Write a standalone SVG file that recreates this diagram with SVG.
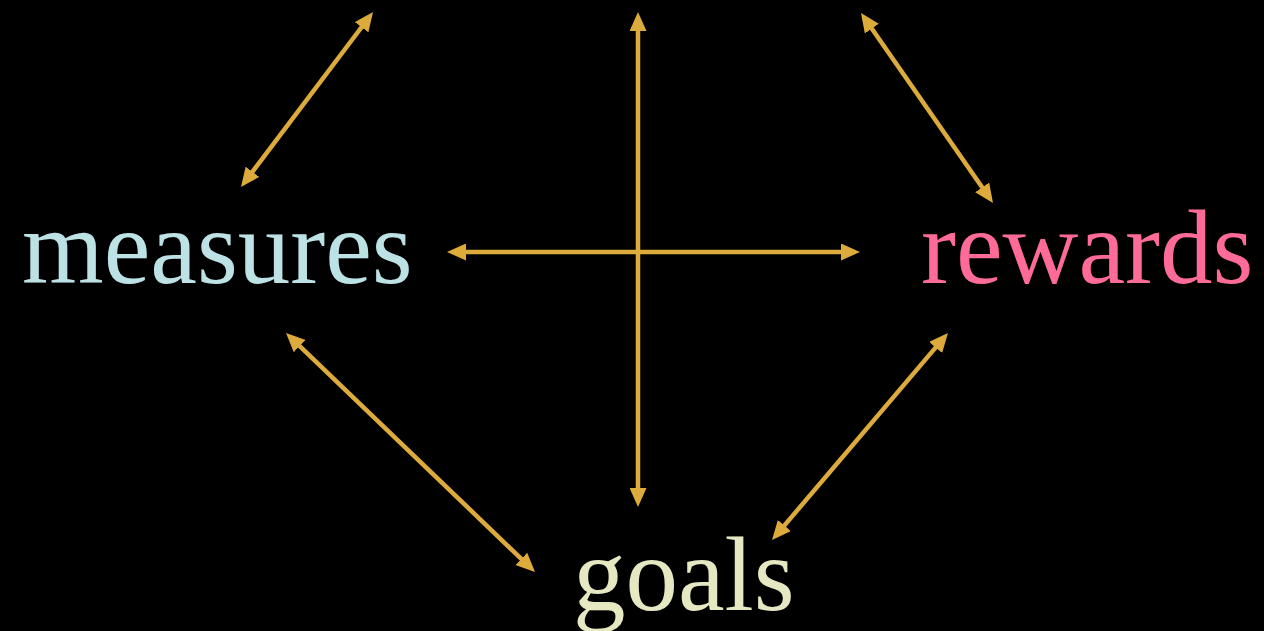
<svg xmlns="http://www.w3.org/2000/svg" width="1264" height="631" viewBox="0 0 1264 631">
<style>
.lbl{font-family:"Liberation Serif","Times New Roman",serif;font-size:105px}
.c{stroke:#ddab3b;stroke-width:4.5;fill:none;marker-start:url(#ah);marker-end:url(#ah)}
</style>
<defs>
<marker id="ah" markerUnits="userSpaceOnUse" markerWidth="19" markerHeight="17" viewBox="0 0 19 17" refX="9" refY="8.5" orient="auto-start-reverse">
<path d="M0,0 L19,8.5 L0,17 z" fill="#ddab3b"/>
</marker>
</defs>
<rect width="1264" height="631" fill="#000"/>
<g id="connectors">
<line class="c" x1="247" y1="179" x2="367" y2="20"/>
<line class="c" x1="638" y1="22" x2="638" y2="497"/>
<line class="c" x1="866.7" y1="21.2" x2="987.3" y2="194.8"/>
<line class="c" x1="457" y1="252" x2="850" y2="252"/>
<line class="c" x1="293.2" y1="339.9" x2="527.8" y2="565.1"/>
<line class="c" x1="941.5" y1="340.6" x2="778.5" y2="532.4"/>
</g>
<g id="measures"><text class="lbl" x="22" y="283" fill="#bde2e5">measures</text></g>
<g id="rewards"><text class="lbl" x="921" y="283" fill="#ff6b99">rewards</text></g>
<g id="goals"><text class="lbl" x="573" y="610" fill="#e5e8c0">goals</text></g>
</svg>
